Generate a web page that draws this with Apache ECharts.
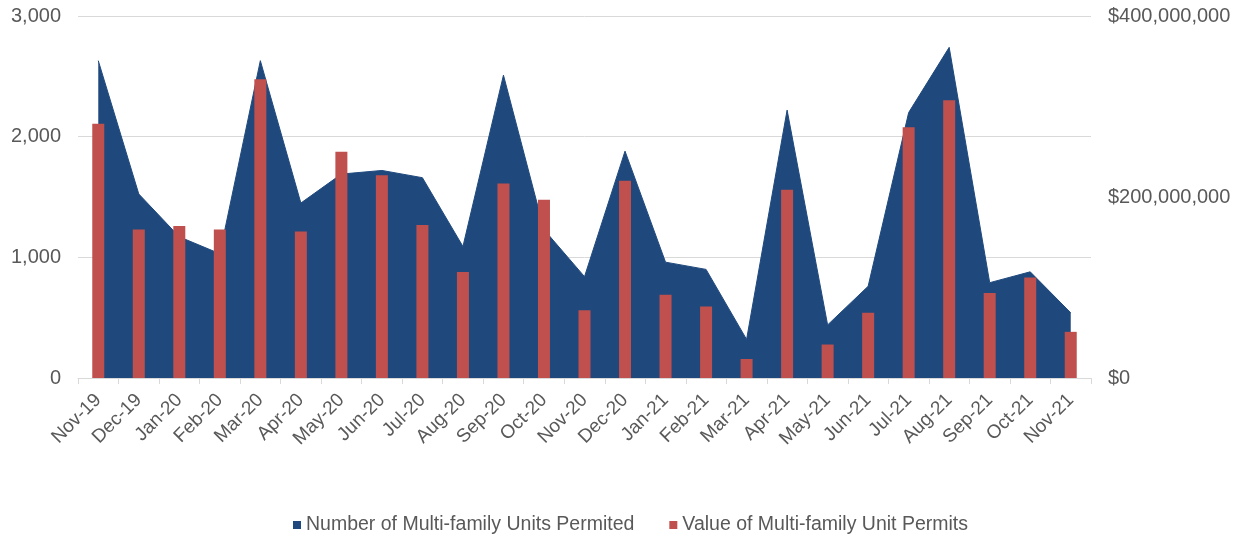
<!DOCTYPE html>
<html>
<head>
<meta charset="utf-8">
<script src="https://cdn.jsdelivr.net/npm/echarts@6/dist/echarts.min.js"></script>
<style>html,body{margin:0;padding:0;background:#fff}#c{width:1241px;height:540px}</style>
</head>
<body>
<div id="c"></div>
<script>
var categories = ['Nov-19','Dec-19','Jan-20','Feb-20','Mar-20','Apr-20','May-20','Jun-20','Jul-20','Aug-20','Sep-20','Oct-20','Nov-20','Dec-20','Jan-21','Feb-21','Mar-21','Apr-21','May-21','Jun-21','Jul-21','Aug-21','Sep-21','Oct-21','Nov-21'];
var unitsPermitted = [2630,1525,1170,1030,2630,1450,1690,1720,1660,1090,2510,1230,840,1880,960,900,320,2220,440,760,2200,2740,790,880,540];
var permitValues = [281e6,164e6,168e6,164e6,330e6,162e6,250e6,224e6,169e6,117e6,215e6,197e6,75e6,218e6,92e6,79e6,21e6,208e6,37e6,72e6,277e6,307e6,94e6,111e6,51e6];
var leftTicks = {min:0, max:3000, interval:1000};
var rightTicks = {min:0, max:400000000, interval:200000000};

var txt = '#595959';
var font = '"Liberation Sans", Arial, sans-serif';
var chart = echarts.init(document.getElementById('c'));
chart.setOption({
  animation: false,
  textStyle: {fontFamily: font},
  grid: {left: 78, right: 150, top: 16, bottom: 162, containLabel: false},
  legend: {
    bottom: 0, left: 288, itemWidth: 8, itemHeight: 8, itemGap: 35,
    textStyle: {color: txt, fontSize: 19.5, fontFamily: font},
    data: [{name:'Number of Multi-family Units Permited', icon:'rect'},{name:'Value of Multi-family Unit Permits', icon:'rect'}]
  },
  xAxis: {
    type: 'category', data: categories, boundaryGap: true,
    axisLine: {lineStyle: {color: '#d9d9d9'}},
    axisTick: {show: true, length: 6, interval: 0, lineStyle: {color: '#d9d9d9'}},
    axisLabel: {interval: 0, rotate: 45, color: txt, fontSize: 19, fontFamily: font, margin: 19}
  },
  yAxis: [{
    type: 'value', min: leftTicks.min, max: leftTicks.max, interval: leftTicks.interval,
    axisLine: {show: false}, axisTick: {show: false},
    splitLine: {lineStyle: {color: '#d9d9d9'}},
    axisLabel: {color: txt, fontSize: 20, fontFamily: font, margin: 17,
      formatter: function(v){return v.toLocaleString('en-US');}}
  },{
    type: 'value', min: rightTicks.min, max: rightTicks.max, interval: rightTicks.interval,
    axisLine: {show: false}, axisTick: {show: false}, splitLine: {show: false},
    axisLabel: {color: txt, fontSize: 20, fontFamily: font, margin: 17,
      formatter: function(v){return '$' + v.toLocaleString('en-US');}}
  }],
  series: [{
    name: 'Number of Multi-family Units Permited', type: 'line', yAxisIndex: 0,
    data: unitsPermitted, symbol: 'none', z: 1,
    itemStyle: {color: '#1F497D'},
    lineStyle: {color: '#1F497D', width: 1},
    areaStyle: {color: '#1F497D', opacity: 1}
  },{
    name: 'Value of Multi-family Unit Permits', type: 'bar', yAxisIndex: 1,
    data: permitValues, barWidth: 12, z: 3,
    itemStyle: {color: '#C0504D'}
  }]
});
</script>
</body>
</html>
